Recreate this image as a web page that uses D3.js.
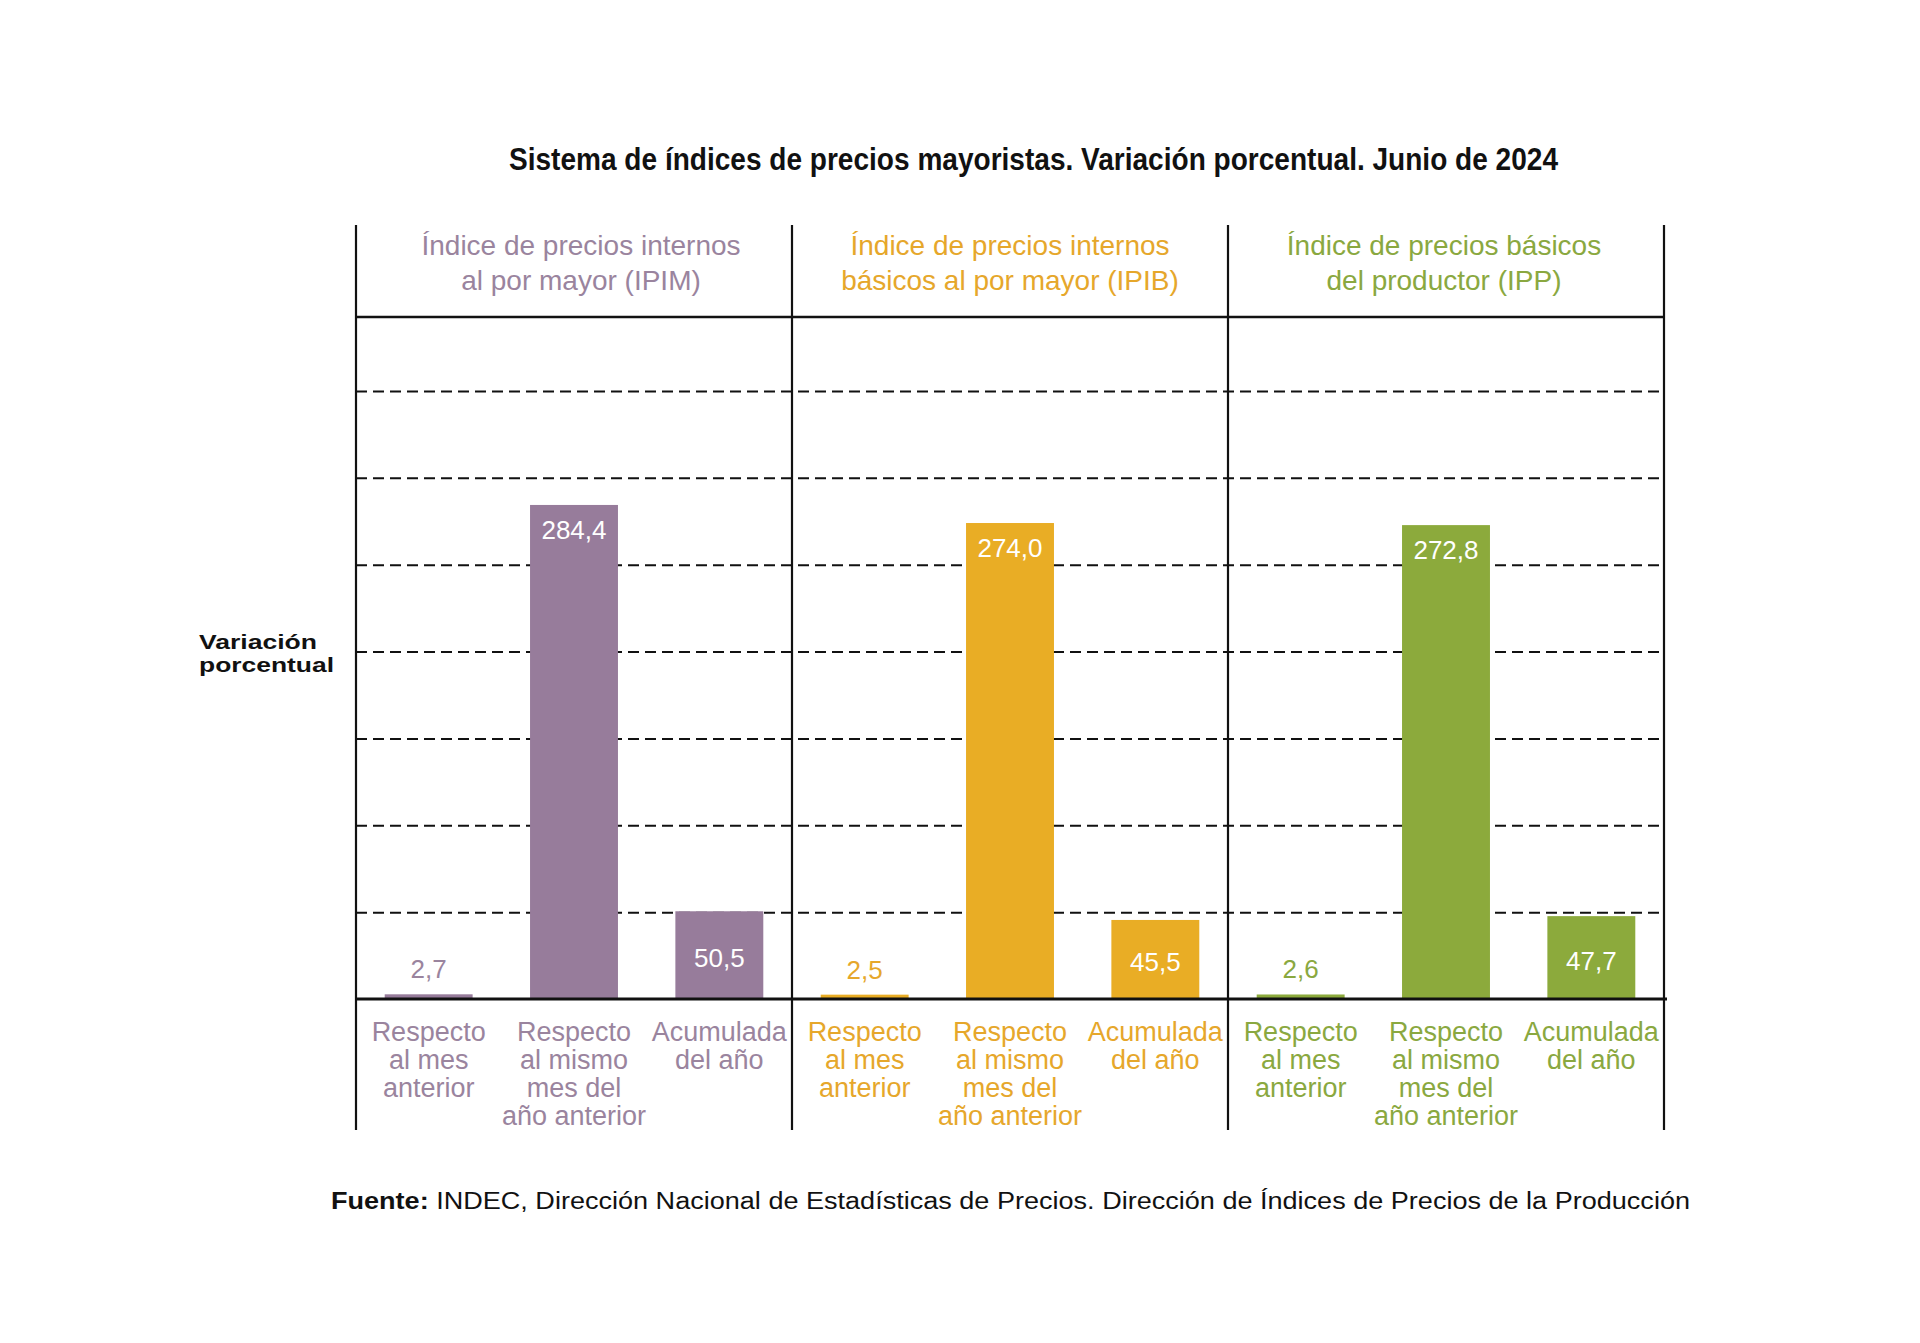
<!DOCTYPE html>
<html>
<head>
<meta charset="utf-8">
<script src="https://cdn.jsdelivr.net/npm/d3@7"></script>
<style>
  html, body { margin: 0; padding: 0; background: #fff; }
  svg { display: block; }
</style>
</head>
<body>
<svg id="chart" width="1920" height="1343"></svg>
<script>
// ---- Data ----
const panels = ["IPIM", "IPIB", "IPP"];
const panelTitles = [
  ["Índice de precios internos", "al por mayor (IPIM)"],
  ["Índice de precios internos", "básicos al por mayor (IPIB)"],
  ["Índice de precios básicos", "del productor (IPP)"]
];
const categories = ["mes", "interanual", "acumulada"];
const categoryLabels = [
  ["Respecto", "al mes", "anterior"],
  ["Respecto", "al mismo", "mes del", "año anterior"],
  ["Acumulada", "del año"]
];
const ipimValues = [2.7, 284.4, 50.5];
const ipibValues = [2.5, 274.0, 45.5];
const ippValues  = [2.6, 272.8, 47.7];
const seriesValues = [ipimValues, ipibValues, ippValues];
const gridTicks = [50, 100, 150, 200, 250, 300, 350];
const barColors  = ["#977c9b", "#e9ad25", "#8caa3c"];
const textColors = ["#9a849e", "#e6a72b", "#8aa840"];
const titleText = "Sistema de índices de precios mayoristas. Variación porcentual. Junio de 2024";
const yLabel = ["Variación", "porcentual"];
const sourceBold = "Fuente:";
const sourceText = " INDEC, Dirección Nacional de Estadísticas de Precios. Dirección de Índices de Precios de la Producción";

// ---- Layout ----
const svg = d3.select("#chart");
const left = 356, right = 1664;
const topLine = 225, headerLine = 317, bottomLine = 1130;

const px = d3.scaleBand().domain(panels).range([left, right]).padding(0);
const xs = d3.scaleBand().domain(categories).range([0, px.bandwidth()])
  .paddingInner(0.395).paddingOuter(0.1975);
const y = d3.scaleLinear().domain([0, 350]).range([999, 391]);

const fmt = v => d3.format(".1f")(v).replace(".", ",");

// Title
svg.append("text")
  .attr("x", 509).attr("y", 170)
  .attr("font-family", "'Liberation Sans', Arial, sans-serif")
  .attr("font-weight", "bold")
  .attr("font-size", 31)
  .attr("fill", "#111")
  .attr("textLength", 1049)
  .attr("lengthAdjust", "spacingAndGlyphs")
  .text(titleText);

// Gridlines (dashed) via axis
const gridAxis = d3.axisLeft(y).tickValues(gridTicks).tickSize(-(right - left)).tickFormat("");
const gridG = svg.append("g").attr("transform", `translate(${left},0)`).call(gridAxis);
gridG.select(".domain").remove();
gridG.selectAll(".tick line")
  .attr("stroke", "#111")
  .attr("stroke-width", 2)
  .attr("stroke-dasharray", "11,6");

// Header horizontal line
svg.append("line")
  .attr("x1", left).attr("x2", right)
  .attr("y1", headerLine).attr("y2", headerLine)
  .attr("stroke", "#111").attr("stroke-width", 2.5);

// Panels
const headerOffsets = [7, 0, -2];
panels.forEach((p, i) => {
  const g = svg.append("g").attr("transform", `translate(${px(p)},0)`);
  const vals = seriesValues[i];

  // header titles
  const cx = px.bandwidth() / 2 + headerOffsets[i];
  panelTitles[i].forEach((line, j) => {
    g.append("text")
      .attr("x", cx).attr("y", 255 + j * 35)
      .attr("text-anchor", "middle")
      .attr("font-family", "'Liberation Sans', Arial, sans-serif")
      .attr("font-size", 28)
      .attr("fill", textColors[i])
      .text(line);
  });

  // bars
  g.selectAll("rect.bar").data(vals).join("rect")
    .attr("class", "bar")
    .attr("x", (d, k) => xs(categories[k]))
    .attr("width", xs.bandwidth())
    .attr("y", d => y(d))
    .attr("height", d => y(0) - y(d))
    .attr("fill", barColors[i]);

  // value labels
  g.selectAll("text.val").data(vals).join("text")
    .attr("class", "val")
    .attr("x", (d, k) => xs(categories[k]) + xs.bandwidth() / 2)
    .attr("y", d => d < 10 ? y(d) - 16 : (d < 100 ? y(d / 2) + 12 : y(d) + 34))
    .attr("text-anchor", "middle")
    .attr("font-family", "'Liberation Sans', Arial, sans-serif")
    .attr("font-size", 26)
    .attr("fill", d => d < 10 ? textColors[i] : "#ffffff")
    .text(d => fmt(d));

  // category labels
  categories.forEach((c, k) => {
    categoryLabels[k].forEach((line, j) => {
      g.append("text")
        .attr("x", xs(c) + xs.bandwidth() / 2)
        .attr("y", 1041 + j * 28)
        .attr("text-anchor", "middle")
        .attr("font-family", "'Liberation Sans', Arial, sans-serif")
        .attr("font-size", 27)
        .attr("fill", textColors[i])
        .text(line);
    });
  });
});

// Vertical lines
const vx = panels.map(p => px(p)).concat([right]);
svg.selectAll("line.v").data(vx).join("line")
  .attr("class", "v")
  .attr("x1", d => d).attr("x2", d => d)
  .attr("y1", topLine).attr("y2", bottomLine)
  .attr("stroke", "#111").attr("stroke-width", 2.2);

// Baseline
svg.append("line")
  .attr("x1", left).attr("x2", right + 3)
  .attr("y1", y(0)).attr("y2", y(0))
  .attr("stroke", "#111").attr("stroke-width", 3.2);

// Y label
yLabel.forEach((line, j) => {
  svg.append("text")
    .attr("x", 199).attr("y", 649 + j * 23)
    .attr("font-family", "'Liberation Sans', Arial, sans-serif")
    .attr("font-weight", "bold")
    .attr("font-size", 21)
    .attr("fill", "#111")
    .attr("textLength", j === 0 ? 118 : 135)
    .attr("lengthAdjust", "spacingAndGlyphs")
    .text(line);
});

// Source
const src = svg.append("text")
  .attr("x", 331).attr("y", 1209)
  .attr("font-family", "'Liberation Sans', Arial, sans-serif")
  .attr("font-size", 23)
  .attr("fill", "#111")
  .attr("textLength", 1359)
  .attr("lengthAdjust", "spacingAndGlyphs");
src.append("tspan").attr("font-weight", "bold").text(sourceBold);
src.append("tspan").text(sourceText);
</script>
</body>
</html>
